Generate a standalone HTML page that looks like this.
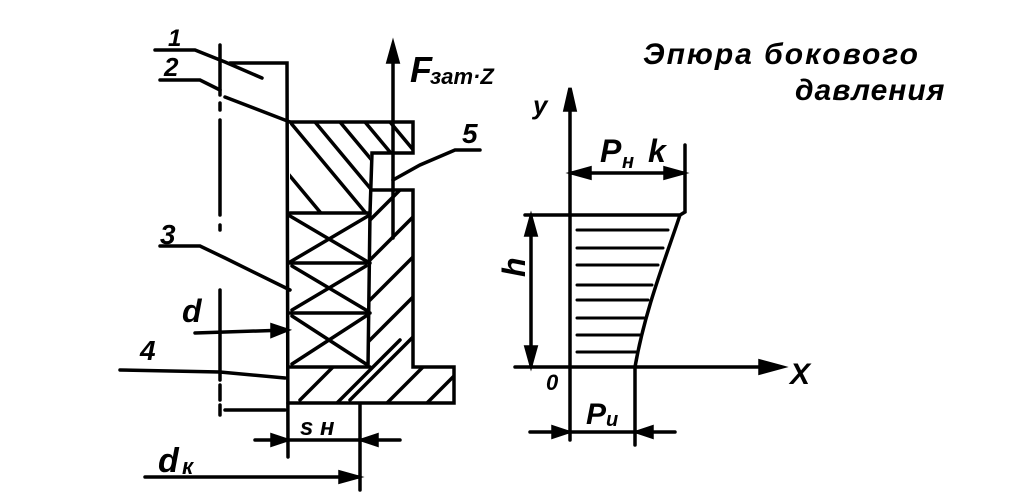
<!DOCTYPE html>
<html><head><meta charset="utf-8"><style>
html,body{margin:0;padding:0;background:#fff;}
svg{display:block}
text{font-family:"Liberation Sans","DejaVu Sans",sans-serif;font-style:italic;font-weight:bold;fill:#000}
</style></head><body>
<svg width="1023" height="493" viewBox="0 0 1023 493" xmlns="http://www.w3.org/2000/svg">
<defs>
<clipPath id="c1"><polygon points="290,122 413,122 413,153 370,153 370,213 290,213"/></clipPath>
<clipPath id="c2"><polygon points="370,190 413,190 413,367 454,367 454,403 288,403 288,367 370,367"/></clipPath>
</defs>
<g stroke="#000" stroke-width="3.5" fill="none" stroke-linecap="round">
<path d="M220,45 V95 M220,103 V110 M220,120 V215 M220,225 V230 M220,290 V380 M220,385 V400 M220,405 V415" />
<path d="M230,63 H287 L288,457"/>
<path d="M290,122 H413 V153 H372 L370,213 M290,213 H370"/>
<g clip-path="url(#c1)">
<path d="M280,110 L380,230 M305,110 L405,230 M330,110 L430,230 M355,110 L455,230 M380,110 L480,230 M260,140 L360,260 M250,170 L350,290"/>
</g>
<path d="M290,263 H370 M290,313 H370 M290,367 H370 M370,213 L368,367"/>
<path d="M290,216 L368,262 M368,216 L290,262 M292,266 L366,310 M366,266 L292,310 M292,316 L366,364 M366,316 L292,364"/>
<path d="M372,190 H413 V367 H454 V403 H288"/>
<g clip-path="url(#c2)">
<path d="M360,230 L420,170 M360,270 L430,200 M360,310 L430,240 M360,350 L430,280 M350,400 L440,310 M380,410 L470,320 M420,410 L480,350 M300,400 L350,350 M330,410 L400,340 M360,190 L420,130"/>
</g>
<path d="M393,238 V48"/>
<polygon points="393,44 388,62 398,62" fill="#000"/>
<path d="M155,50 H195 L225,62 L262,78"/>
<path d="M160,80 H200 L220,90 M225,97 L290,122"/>
<path d="M160,246 H200 L225,258 L290,290"/>
<path d="M195,333 L287,330"/>
<polygon points="287,330 272,325 272,336" fill="#000"/>
<path d="M120,370 L220,372 L285,378"/>
<path d="M225,410 H285"/>
<path d="M480,150 H455 L420,165 L393,180"/>
<path d="M360,405 V490 M255,440 H400 M145,477 H360"/>
<polygon points="287,440 272,435 272,445" fill="#000"/>
<polygon points="362,440 377,435 377,445" fill="#000"/>
<polygon points="358,477 340,472 340,482" fill="#000"/>
<path d="M570,90 V440 M515,367 H780 M525,215 H680 M685,145 V212 L680,215 C665,260 645,310 635,367 V445 M570,173 H685 M531,215 V367 M530,432 H675"/>
<polygon points="570,88 565,110 575,110" fill="#000"/>
<polygon points="782,367 760,361 760,373" fill="#000"/>
<polygon points="572,173 590,168 590,178" fill="#000"/>
<polygon points="683,173 665,168 665,178" fill="#000"/>
<polygon points="531,217 526,235 536,235" fill="#000"/>
<polygon points="531,365 526,347 536,347" fill="#000"/>
<polygon points="568,432 553,427 553,437" fill="#000"/>
<polygon points="637,432 652,427 652,437" fill="#000"/>
<path d="M577,230 H668 M577,248 H663 M577,265 H658 M577,285 H652 M577,300 H648 M577,318 H644 M577,335 H640 M577,352 H637" stroke-width="3"/>
</g>
<text x="168" y="46" font-size="24">1</text>
<text x="164" y="76" font-size="26">2</text>
<text x="410" y="82" font-size="36">F</text>
<text x="430" y="84" font-size="22">зат·Z</text>
<text x="462" y="143" font-size="28">5</text>
<text x="160" y="244" font-size="28">3</text>
<text x="182" y="322" font-size="32">d</text>
<text x="140" y="360" font-size="28">4</text>
<text x="300" y="435" font-size="24">s н</text>
<text x="158" y="472" font-size="34">d</text>
<text x="182" y="474" font-size="22">к</text>
<text x="533" y="114" font-size="26">y</text>
<text x="600" y="162" font-size="32">P</text>
<text x="622" y="168" font-size="20">н</text>
<text x="648" y="162" font-size="32">k</text>
<text x="528" y="300" font-size="32" transform="rotate(-90 515 290)">h</text>
<text x="790" y="384" font-size="30" font-style="normal">X</text>
<text x="546" y="390" font-size="22">0</text>
<text x="586" y="424" font-size="30">P</text>
<text x="606" y="426" font-size="20">и</text>
<text x="643" y="64" font-size="30" font-weight="normal" letter-spacing="2">Эпюра  бокового</text>
<text x="795" y="100" font-size="30" font-weight="normal" letter-spacing="1">давления</text>
</svg>
</body></html>
